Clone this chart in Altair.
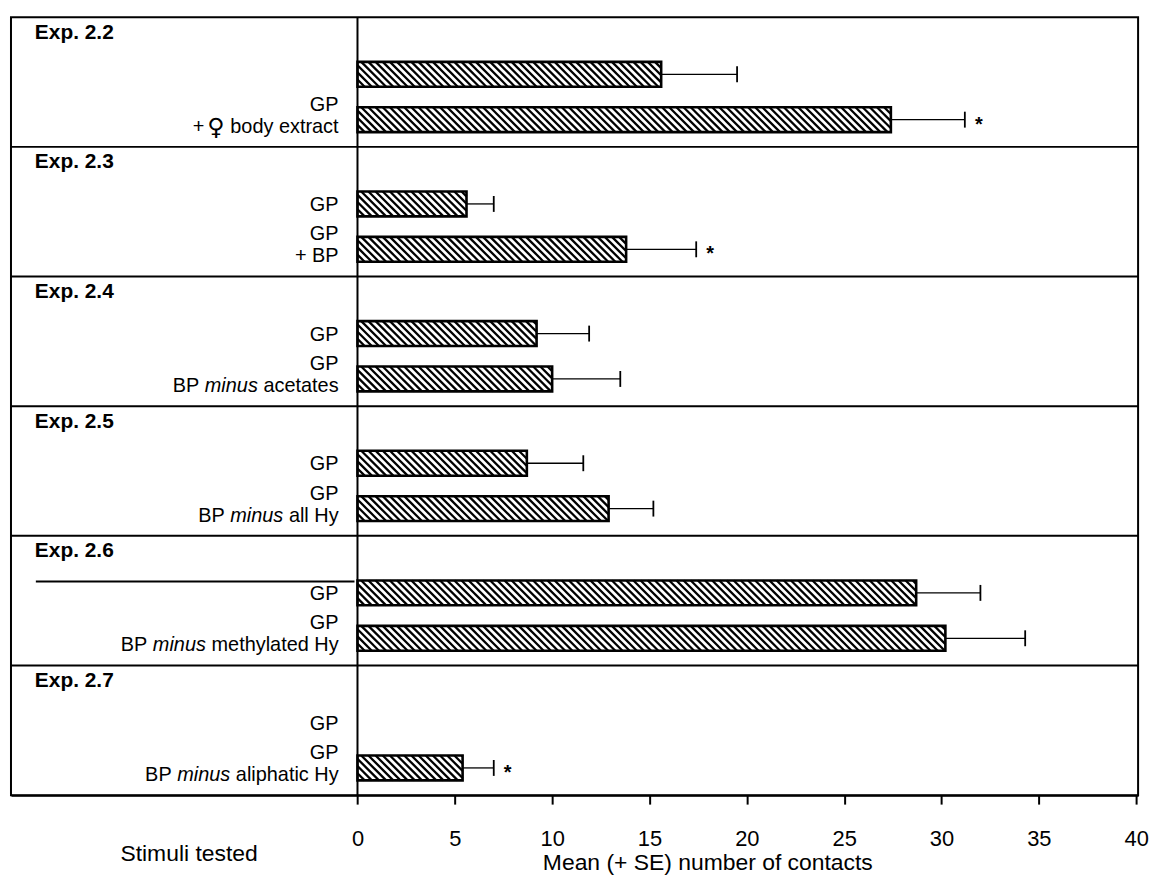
import altair as alt
import pandas as pd

# ---------------- data ----------------
experiments = ["Exp. 2.2", "Exp. 2.3", "Exp. 2.4", "Exp. 2.5", "Exp. 2.6", "Exp. 2.7"]
control_means = [15.6, 5.6, 9.2, 8.7, 28.7, 0.0]
control_se = [3.9, 1.4, 2.7, 2.9, 3.3, 0.0]
treatment_means = [27.4, 13.8, 10.0, 12.9, 30.2, 5.4]
treatment_se = [3.8, 3.6, 3.5, 2.3, 4.1, 1.6]
treatment_significant = [True, True, False, False, False, True]
control_labels = ["", "GP", "GP", "GP", "GP", "GP"]
treatment_first_line = ["GP", "GP", "GP", "GP", "GP", "GP"]
treatment_second_line = [
    [("+ ", "normal"), ("\u2640", "symbol"), (" body extract", "normal")],
    [("+ BP", "normal")],
    [("BP ", "normal"), ("minus", "italic"), (" acetates", "normal")],
    [("BP ", "normal"), ("minus", "italic"), (" all Hy", "normal")],
    [("BP ", "normal"), ("minus", "italic"), (" methylated Hy", "normal")],
    [("BP ", "normal"), ("minus", "italic"), (" aliphatic Hy", "normal")],
]
x_ticks = [0, 5, 10, 15, 20, 25, 30, 35, 40]
x_title = "Mean (+ SE) number of contacts"
y_title = "Stimuli tested"

# ---------------- layout ----------------
FONT = "Liberation Sans"
W, H = 1133, 782
XMIN, XMAX = -17.8, 40.1
PX = W / (XMAX - XMIN)          # pixels per x unit
NP = len(experiments)
PY = H / NP                     # pixels per panel
BAR_H = 25.0
BAR1, BAR2, TITLE_OFF = 0.44, 0.79, 0.12
HATCH_PERIOD = 7.2
LABEL_GAP = 19
LABEL_SIZE = 20
SYMBOL_SIZE = 24

ARIAL = {' ': 278, '+': 584, 'B': 667, 'P': 667, 'G': 778, 'H': 722, 'a': 556, 'b': 556,
         'c': 500, 'd': 556, 'e': 556, 'h': 556, 'i': 222, 'l': 222, 'm': 833, 'n': 556,
         'o': 556, 'p': 556, 'r': 333, 's': 500, 't': 278, 'u': 556, 'v': 500, 'x': 500,
         'y': 500, 'k': 500, 'f': 278}


def text_w(s, style):
    if style == "symbol":
        return 0.62 * SYMBOL_SIZE * len(s)
    return sum(ARIAL.get(ch, 600) for ch in s) / 1000 * LABEL_SIZE


bars, errs, caps, stars, hatch = [], [], [], [], []
texts = []


def add_bar(i, mean, se, yoff, sig):
    if mean <= 0:
        return
    yc = i + yoff
    hy = BAR_H / 2 / PY
    bars.append(dict(x=0, x2=mean, y=yc - hy, y2=yc + hy))
    errs.append(dict(x=mean, x2=mean + se, y=yc))
    caps.append(dict(x=mean + se, y=yc - 8 / PY, y2=yc + 8 / PY))
    if sig:
        stars.append(dict(x=mean + se, y=yc, text="*"))
    wpx = mean * PX
    top = yc * PY - BAR_H / 2
    c = -BAR_H
    while c < wpx:
        t0 = max(0.0, -c / BAR_H)
        t1 = min(1.0, (wpx - c) / BAR_H)
        if t1 > t0:
            hatch.append(dict(x=(c + t0 * BAR_H) / PX, x2=(c + t1 * BAR_H) / PX,
                              y=(top + t0 * BAR_H) / PY, y2=(top + t1 * BAR_H) / PY))
        c += HATCH_PERIOD


for i in range(NP):
    add_bar(i, control_means[i], control_se[i], BAR1, False)
    add_bar(i, treatment_means[i], treatment_se[i], BAR2, treatment_significant[i])
    texts.append(dict(x=XMIN + 24 / PX, y=i + TITLE_OFF, text=experiments[i], style="title"))
    if control_labels[i]:
        texts.append(dict(x=-LABEL_GAP / PX, y=i + BAR1 + 1 / PY, text=control_labels[i], style="normal"))
    texts.append(dict(x=-LABEL_GAP / PX, y=i + BAR2 - 15 / PY, text=treatment_first_line[i], style="normal"))
    off = LABEL_GAP
    for seg, style in reversed(treatment_second_line[i]):
        trail = len(seg) - len(seg.rstrip(" "))
        texts.append(dict(x=-(off + text_w(" " * trail, "normal")) / PX, y=i + BAR2 + 7 / PY,
                          text=seg.strip(" "), style=style))
        off += text_w(seg, style)

bars_df = pd.DataFrame(bars)
errs_df = pd.DataFrame(errs)
caps_df = pd.DataFrame(caps)
stars_df = pd.DataFrame(stars)
hatch_df = pd.DataFrame(hatch)
texts_df = pd.DataFrame(texts)
sep_df = pd.DataFrame(dict(y=list(range(1, NP))))
zero_df = pd.DataFrame(dict(x=[0.0]))
artifact_df = pd.DataFrame(dict(x=[XMIN + 25 / PX], x2=[-3 / PX], y=[4 + 46 / PY]))
ytitle_df = pd.DataFrame(dict(t=[y_title]))

xs = alt.Scale(domain=[XMIN, XMAX], nice=False, zero=False)
ys = alt.Scale(domain=[0, NP], nice=False, zero=False, reverse=True)
xaxis = alt.Axis(
    values=x_ticks, title=x_title, grid=False, domain=True, domainColor="black", domainWidth=2,
    ticks=True, tickColor="black", tickSize=9, tickWidth=2, labelFontSize=22, labelColor="black",
    labelPadding=25, labelFont=FONT, titleFont=FONT, titleFontSize=23, titleFontWeight="normal",
    titleColor="black", titleX=700, titleY=68, titleBaseline="middle")


def X(field):
    return alt.X(field, scale=xs, axis=xaxis)


def Y(field):
    return alt.Y(field, scale=ys, axis=None)


separators = alt.Chart(sep_df).mark_rule(color="black", strokeWidth=2).encode(y=Y("y:Q"))
zero_line = alt.Chart(zero_df).mark_rule(color="black", strokeWidth=2).encode(x=X("x:Q"))
artifact_line = alt.Chart(artifact_df).mark_rule(color="black", strokeWidth=2).encode(
    x=X("x:Q"), x2="x2:Q", y=Y("y:Q"))

hatch_layer = alt.Chart(hatch_df).mark_rule(color="black", strokeWidth=2.3, strokeCap="butt").encode(
    x=X("x:Q"), x2="x2:Q", y=Y("y:Q"), y2="y2:Q")

bar_outline = alt.Chart(bars_df).mark_rect(fill="transparent", stroke="black", strokeWidth=2.6).encode(
    x=X("x:Q"), x2="x2:Q", y=Y("y:Q"), y2="y2:Q")

err_layer = alt.Chart(errs_df).mark_rule(color="black", strokeWidth=1.3).encode(
    x=X("x:Q"), x2="x2:Q", y=Y("y:Q"))
cap_layer = alt.Chart(caps_df).mark_rule(color="black", strokeWidth=1.8).encode(
    x=X("x:Q"), y=Y("y:Q"), y2="y2:Q")
star_layer = alt.Chart(stars_df).mark_text(font=FONT, fontSize=20, fontWeight="bold", dx=14, dy=5,
                                           baseline="middle", color="black").encode(
    x=X("x:Q"), y=Y("y:Q"), text="text:N")


def text_layer(style, **kw):
    return alt.Chart(texts_df[texts_df["style"] == style]).mark_text(
        baseline="middle", color="black", **kw).encode(
        x=X("x:Q"), y=Y("y:Q"), text="text:N")


title_text = text_layer("title", font=FONT, fontSize=21, fontWeight="bold", align="left")
normal_text = text_layer("normal", font=FONT, fontSize=LABEL_SIZE, align="right")
italic_text = text_layer("italic", font=FONT, fontSize=LABEL_SIZE, fontStyle="italic", align="right")
symbol_text = text_layer("symbol", font="DejaVu Sans", fontSize=SYMBOL_SIZE, align="right", dy=1)
y_title_text = alt.Chart(ytitle_df).mark_text(
    font=FONT, fontSize=23, align="left", baseline="middle", color="black").encode(
    x=alt.value(110), y=alt.value(H + 59), text="t:N")

chart = alt.layer(
    separators, zero_line, artifact_line, hatch_layer, bar_outline, err_layer, cap_layer,
    star_layer, title_text, normal_text, italic_text, symbol_text, y_title_text
).properties(
    width=W, height=H, padding={"left": 2, "top": 6, "right": 6, "bottom": 0}
).configure(font=FONT).configure_view(stroke="black", strokeWidth=2)

chart.save("out.html", embed_options={"renderer": "svg", "actions": False})
